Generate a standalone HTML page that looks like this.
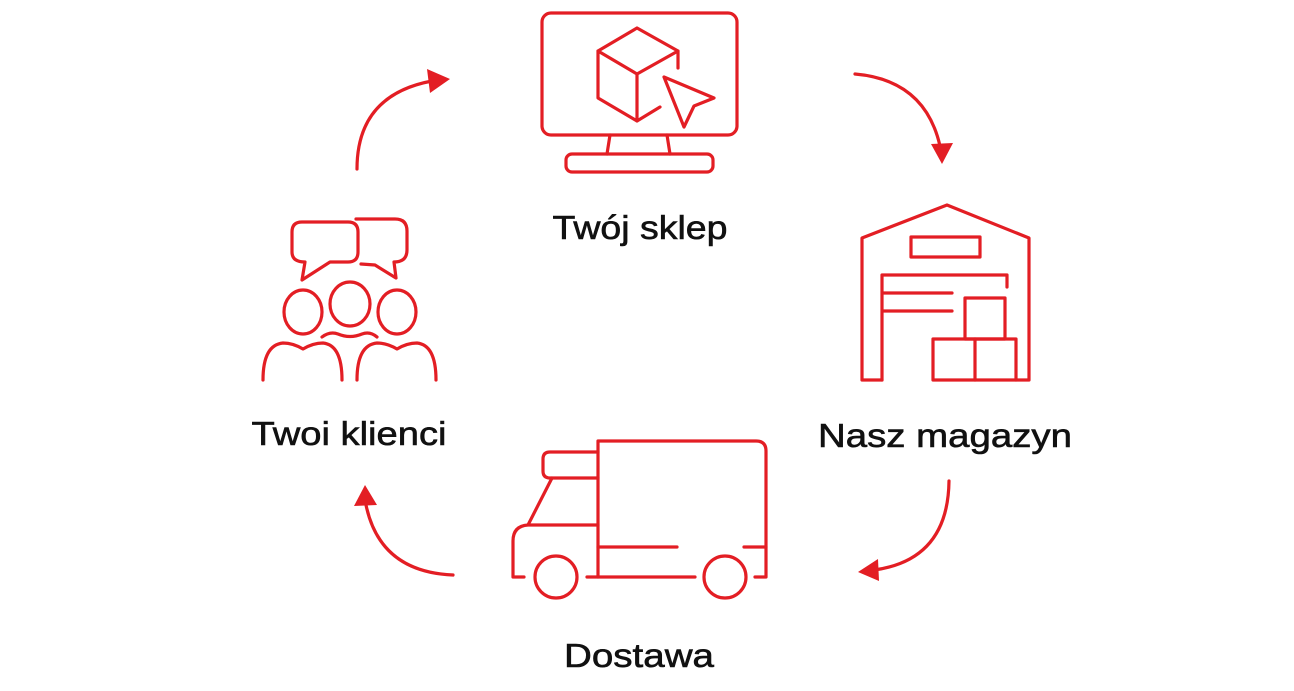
<!DOCTYPE html>
<html><head><meta charset="utf-8"><style>
html,body{margin:0;padding:0;background:#fff;}
svg{display:block}
text{font-family:"Liberation Sans",sans-serif;font-size:33px;fill:#111;stroke:#111;stroke-width:0.6;text-anchor:middle}
</style></head><body>
<svg width="1294" height="691" viewBox="0 0 1294 691">
<g fill="none" stroke="#e31e24" stroke-width="3.2" stroke-linecap="round" stroke-linejoin="round">
<rect x="542" y="13" width="195" height="122" rx="9"/>
<path d="M610 135 L607 154 M667 135 L670 154"/>
<rect x="566" y="154" width="147" height="18" rx="6"/>
<path d="M637 28 L598 51 L637 74 L678 51 L637 28 M598 51 L598 98 L637 121 L660 107 M637 74 L637 121 M678 51 L678 68"/>
<path d="M664 77 L714 98 L694 106 L684 127 Z"/>
<path d="M882 380 L862 380 L862 238 L947 205 L1029 238 L1029 380 L1016 380"/>
<rect x="911" y="237" width="69" height="20"/>
<path d="M882 380 L882 275 L1007 275 L1007 287 M882 293 L952 293 M882 311 L952 311"/>
<rect x="965" y="298" width="40" height="41"/>
<rect x="933" y="339" width="83" height="41"/>
<path d="M975 339 L975 380"/>
<ellipse cx="303" cy="312" rx="19" ry="22"/>
<ellipse cx="350" cy="304" rx="20" ry="22"/>
<ellipse cx="397" cy="312" rx="19" ry="22"/>
<path d="M263 380 Q263 345 283 343 Q293 343 303 349 Q313 343 323 343 Q342 345 342 380"/>
<path d="M357 380 Q357 345 377 343 Q387 343 397 349 Q407 343 417 343 Q436 345 436 380"/>
<path d="M322 337 Q330 331 338 334 Q350 339 362 334 Q370 331 377 337"/>
<path d="M305 262 L302 280 L330 262 L348 262 Q358 262 358 252 L358 232 Q358 222 348 222 L302 222 Q292 222 292 232 L292 252 Q292 262 305 262"/>
<path d="M356 219 L395 219 Q407 219 407 231 L407 250 Q407 262 394 262 L396 278 L375 265 L361 264"/>
<path d="M598 577 L598 441 L756 441 Q766 441 766 451 L766 577 L755 577"/>
<path d="M598 452 L550 452 Q543 452 543 459 L543 471 Q543 478 550 478 L598 478"/>
<path d="M552 478 L528 525 L598 525 M528 525 Q513 526 513 541 L513 577 L524 577"/>
<circle cx="556" cy="577" r="21"/>
<circle cx="725" cy="577" r="21"/>
<path d="M587 577 L695 577 M598 547 L677 547 M744 547 L766 547"/>
<path d="M357 169 Q357 95 432 81"/>
<path d="M855 74 Q925 80 940 146"/>
<path d="M949 481 Q948 560 874 570"/>
<path d="M453 575 Q380 572 366 505"/>
</g>
<g fill="#e31e24">
<path d="M427 69 L450 79 L430 93 Z"/>
<path d="M931 144 L953 143 L942 164 Z"/>
<path d="M878 559 L858 572 L879 581 Z"/>
<path d="M354 506 L365 485 L377 505 Z"/>
</g>
<text x="640" y="239" textLength="175" lengthAdjust="spacingAndGlyphs">Twój sklep</text>
<text x="945" y="447" textLength="254" lengthAdjust="spacingAndGlyphs">Nasz magazyn</text>
<text x="349" y="445" textLength="195" lengthAdjust="spacingAndGlyphs">Twoi klienci</text>
<text x="639" y="667" textLength="150" lengthAdjust="spacingAndGlyphs">Dostawa</text>
</svg>
</body></html>
